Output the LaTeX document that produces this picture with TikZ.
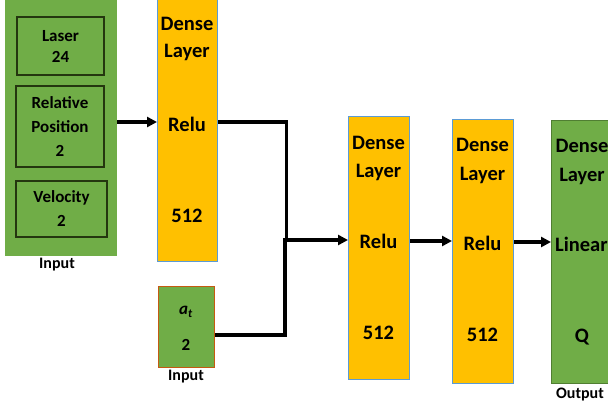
\documentclass[tikz,border=0pt]{standalone}
\usepackage{fontspec}
\setmainfont{Carlito}
\usetikzlibrary{arrows.meta}
\definecolor{gfill}{HTML}{70AD47}
\definecolor{gdark}{HTML}{507E32}
\definecolor{ofill}{HTML}{FFC000}
\definecolor{bedge}{HTML}{5B9BD5}
\definecolor{redge}{HTML}{C55A11}
\definecolor{idark}{HTML}{24360F}
\tikzset{
  big/.style={font=\fontsize{20.5}{22}\selectfont\bfseries, inner sep=0pt},
  small/.style={font=\fontsize{17}{24}\selectfont\bfseries, align=center},
  mid/.style={font=\fontsize{17}{18}\selectfont\bfseries, inner sep=0pt},
  lbl/.style={font=\fontsize{16}{18}\selectfont\bfseries, inner sep=0pt},
  dense/.style={draw=bedge, line width=1pt, fill=ofill, inner sep=0pt},
  greenbox/.style={draw=gdark, line width=1pt, fill=gfill, inner sep=0pt},
  inbox/.style={draw=idark, line width=1.4pt, fill=gfill, inner sep=0pt},
  arr/.style={line width=3.4pt, -{Triangle[length=10pt,width=10pt]}},
  wire/.style={line width=3.4pt}
}
\begin{document}
\begin{tikzpicture}[x=1pt,y=-1pt]
\useasboundingbox (0,0) rectangle (608,410);
\clip (0,0) rectangle (608,410);
% input block
\node[greenbox, draw=none, minimum width=112pt, minimum height=262pt, anchor=north west] (input) at (4,-7) {};
\node[inbox, minimum width=87pt, minimum height=58pt] (laser) at (60.5,46) {};
\node[small] (lasertxt) at (60.5,46) {Laser\\[-3pt]24};
\node[inbox, minimum width=88pt, minimum height=81pt] (relpos) at (60,126.5) {};
\node[small] (reltxt) at (60,126.5) {Relative\\Position\\2};
\node[inbox, minimum width=91pt, minimum height=56pt] (vel) at (61.5,209) {};
\node[small] (veltxt) at (61.5,209) {Velocity\\2};
\node[lbl] (inlbl) at (57,265) {Input};
% dense 1
\node[dense, minimum width=60pt, minimum height=268pt, anchor=north west] (d1) at (157,-7) {};
\node[big] (d1a) at (187,24) {Dense};
\node[big] (d1b) at (187,52) {Layer};
\node[big] (r1) at (187,124) {Relu};
\node[big] (d1c) at (187,216) {512};
% a_t input
\node[greenbox, draw=redge, minimum width=56pt, minimum height=81pt, anchor=north west] (atin) at (158,286) {};
\node[mid] (attxt) at (186,312) {\itshape a\textsubscript{t}};
\node[mid] (at2) at (186,345) {2};
\node[lbl] (atlbl) at (186,377) {Input};
% dense 2
\node[dense, minimum width=61pt, minimum height=263pt, anchor=north west] (d2) at (348,116) {};
\node[big] (d2a) at (378.5,143) {Dense};
\node[big] (d2b) at (378.5,172) {Layer};
\node[big] (r2) at (378.5,241) {Relu};
\node[big] (d2c) at (378.5,333) {512};
% dense 3
\node[dense, minimum width=61pt, minimum height=264pt, anchor=north west] (d3) at (452,119) {};
\node[big] (d3a) at (482.5,145) {Dense};
\node[big] (d3b) at (482.5,175) {Layer};
\node[big] (r3) at (482.5,243) {Relu};
\node[big] (d3c) at (482.5,335) {512};
% output
\node[greenbox, minimum width=72pt, minimum height=263pt, anchor=north west] (out) at (551,120) {};
\node[big] (oa) at (582,146) {Dense};
\node[big] (ob) at (582,176) {Layer};
\node[big, anchor=west] (lin) at (555,244) {Linear};
\node[big] (oq) at (582,337) {Q};
\node[lbl] (outlbl) at (580,395) {Output};
% connectors
\coordinate (j) at (285,240);
\coordinate (jat) at (0,335);
\draw[arr] (input.east |- 0,122) -- (d1.west |- 0,122);
\draw[wire] (d1.east |- 0,122) -| ([xshift=1.7pt]j);
\draw[wire] (atin.east |- jat) -| (j);
\draw[arr] ([xshift=-1.7pt]j) -- (d2.west |- j);
\draw[arr] (d2.east |- 0,241) -- (d3.west |- 0,241);
\draw[arr] (d3.east |- 0,242) -- (out.west |- 0,242);
\end{tikzpicture}
\end{document}
